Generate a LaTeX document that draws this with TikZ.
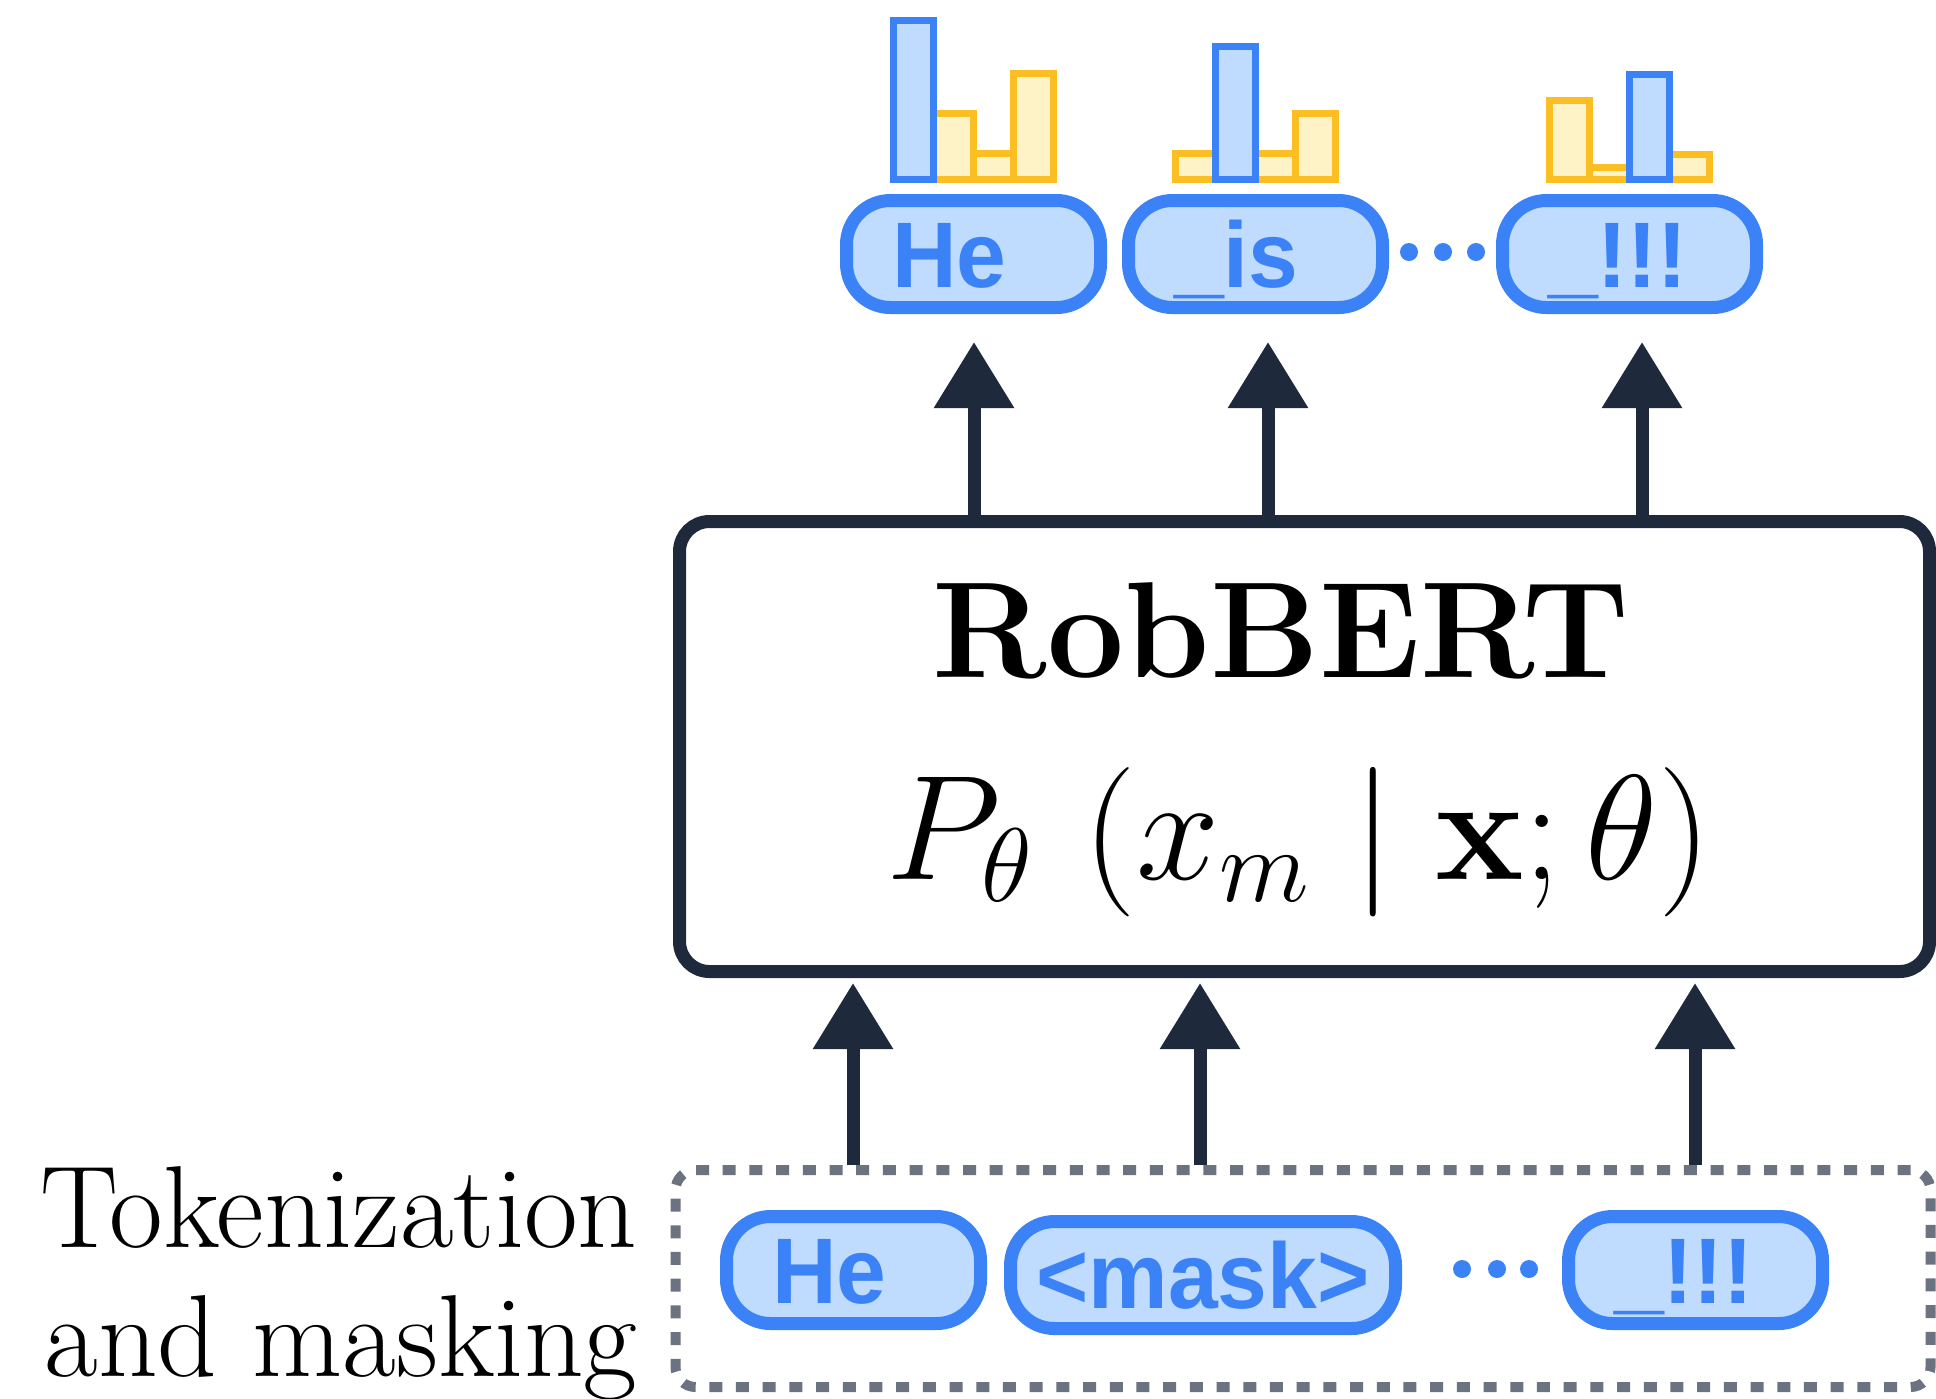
\documentclass[tikz,border=0pt]{standalone}
\usepackage{fix-cm}
\usepackage{amsmath}
\usepackage[no-math]{fontspec}
\newfontfamily\tokfont[FakeStretch=0.96]{Liberation Sans}
\usetikzlibrary{arrows.meta}
\definecolor{tokblue}{HTML}{3B82F6}
\definecolor{tokfill}{HTML}{BFDBFE}
\definecolor{baryel}{HTML}{FBBF24}
\definecolor{baryelfill}{HTML}{FEF3C7}
\definecolor{darkline}{HTML}{1E293B}
\definecolor{dashgray}{HTML}{6B7280}
\begin{document}
\begin{tikzpicture}[x=0.1mm,y=-0.1mm,
  pill/.style={draw=tokblue, fill=tokfill, line width=1.3mm, rounded corners=4.4mm,
    minimum height=10.7mm, text height=6.6mm, text depth=0pt, inner ysep=0pt,
    font=\tokfont\bfseries\fontsize{26.5}{30}\selectfont, text=tokblue},
  pillL/.style={pill, inner xsep=4.55mm, text width=16.3mm, align=left, minimum width=25.4mm},
  pillC/.style={pill, minimum width=38.5mm},
  ybar/.style={draw=baryel, fill=baryelfill, line width=0.7mm},
  bbar/.style={draw=tokblue, fill=tokfill, line width=0.7mm},
  arr/.style={draw=darkline, line width=1.3mm, -{Triangle[width=7.7mm,length=6.6mm]}},
  rbbox/.style={draw=darkline, fill=white, line width=1.3mm, rounded corners=3mm,
    minimum width=125mm, minimum height=45mm},
  dbox/.style={draw=dashgray, line width=1.0mm, dash pattern=on 1.3mm off 1.37mm,
    rounded corners=2mm, minimum width=125.5mm, minimum height=21.7mm},
  dotnode/.style={circle, fill=tokblue, inner sep=0pt, minimum size=1.8mm},
  lbl/.style={font=\fontsize{33.2}{40}\selectfont, inner sep=0pt}
]
\useasboundingbox (0,0) rectangle (1936,1398);

% label
\node[lbl, anchor=base east] (lbl1) at (638,1247) {Tokenization};
\node[lbl, anchor=base east] (lbl2) at (638,1376) {and masking};

% tokenization box and input tokens
\node[dbox] (tok) at (1303,1278.5) {};
\node[pillL] (in1) at (853.5,1270) {He};
\node[pillC] (in2) at (1203,1275) {<mask>};
\node[pillL] (in3) at (1695.5,1270) {\_!!!};
\node[dotnode] (bd1) at (1462,1269) {};
\node[dotnode] (bd2) at (1497,1269) {};
\node[dotnode] (bd3) at (1529,1269) {};

% model box
\node[rbbox] (rb) at (1304.5,746.5) {};
\node[anchor=base, inner sep=0pt, font=\bfseries\fontsize{38.9}{44}\selectfont] (title) at (1281,677) {RobBERT};
\node[anchor=base, inner sep=0pt, font=\fontsize{42.5}{48}\selectfont] (formula) at (1299,879)
  {$P_\theta\,\left(x_m \mid \mathbf{x};\theta\right)$};

% arrows into the model
\coordinate (b1) at (853,983);
\coordinate (b2) at (1200,983);
\coordinate (b3) at (1695,983);
\draw[arr] (tok.north -| b1) -- (b1);
\draw[arr] (tok.north -| b2) -- (b2);
\draw[arr] (tok.north -| b3) -- (b3);

% arrows out of the model
\coordinate (t1) at (974,342);
\coordinate (t2) at (1268,342);
\coordinate (t3) at (1642,342);
\draw[arr] (rb.north -| t1) -- (t1);
\draw[arr] (rb.north -| t2) -- (t2);
\draw[arr] (rb.north -| t3) -- (t3);

% output tokens
\node[pillL] (out1) at (973.5,254) {He};
\node[pillL] (out2) at (1255.5,254) {\_is};
\node[pillL] (out3) at (1629.5,254) {\_!!!};
\node[dotnode] (td1) at (1409,252) {};
\node[dotnode] (td2) at (1443,252) {};
\node[dotnode] (td3) at (1476,252) {};

% distributions: He
\draw[ybar] (933.5,113.5) rectangle (973.5,179.5);
\draw[ybar] (973.5,153.5) rectangle (1013.5,179.5);
\draw[ybar] (1013.5,73.5) rectangle (1053.5,179.5);
\draw[bbar] (893.5,20.5) rectangle (933.5,179.5);
% _is
\draw[ybar] (1175.5,153.5) rectangle (1215.5,179.5);
\draw[ybar] (1255.5,153.5) rectangle (1295.5,179.5);
\draw[ybar] (1295.5,113.5) rectangle (1335.5,179.5);
\draw[bbar] (1215.5,46.5) rectangle (1255.5,179.5);
% _!!!
\draw[ybar] (1549.5,100.5) rectangle (1589.5,179.5);
\draw[ybar] (1589.5,167.5) rectangle (1629.5,179.5);
\draw[ybar] (1669.5,154.5) rectangle (1709.5,179.5);
\draw[bbar] (1629.5,74.5) rectangle (1669.5,179.5);
\end{tikzpicture}
\end{document}
